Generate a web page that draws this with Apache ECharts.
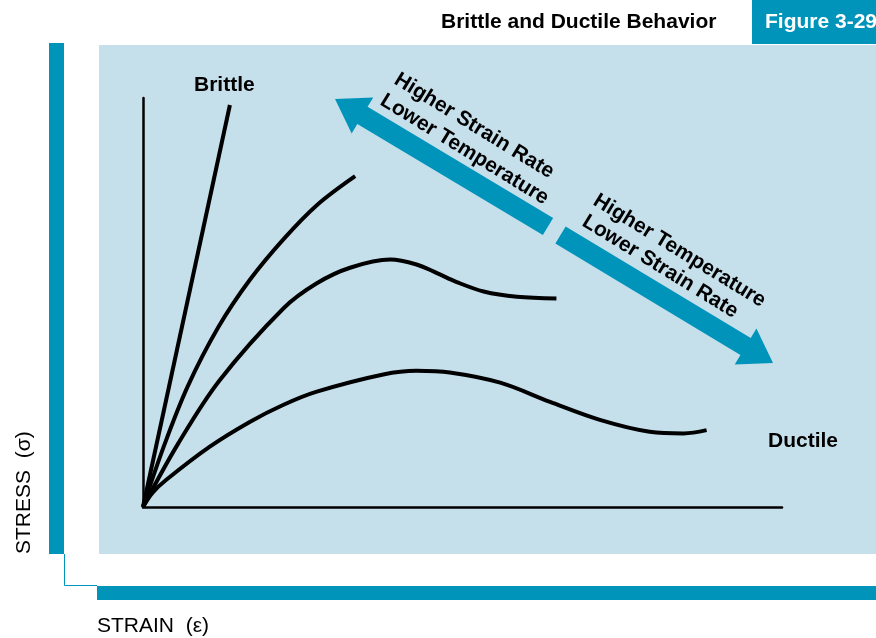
<!DOCTYPE html>
<html>
<head>
<meta charset="utf-8">
<style>
  html, body { margin: 0; padding: 0; background: #fff; }
  #chart { width: 876px; height: 638px; }
</style>
<script src="https://cdn.jsdelivr.net/npm/echarts@6/dist/echarts.min.js"></script>
</head>
<body>
<div id="chart"></div>
<script>
// stress-strain curves (strain %, stress %)
const brittleCurve = [[0, 0], [13.6, 98.3]];
const secondCurve = [[0, 0], [3.3, 15.0], [7.0, 29.5], [11.8, 44.0], [16.7, 55.5], [22.0, 65.5],
  [27.2, 73.8], [33.2, 80.9]];
const thirdCurve = [[0, 0], [5.5, 15.5], [12.0, 31.0], [22.0, 48.6], [27.2, 54.7], [32.4, 58.5],
  [38.7, 60.5], [42.8, 59.3], [46.0, 57.2], [49.1, 55.0], [53.3, 52.7], [58.5, 51.4], [64.7, 51.0]];
const ductileCurve = [[0, 0], [1.5, 3.5], [3.6, 6.6], [10.4, 14.7], [16.7, 20.8], [22.0, 25.0], [27.2, 28.2],
  [37.6, 32.4], [42.8, 33.3], [48.0, 32.9], [55.9, 30.4], [63.7, 25.7], [71.5, 21.3], [79.3, 18.4],
  [84.6, 18.0], [88.2, 18.8]];

const titleText = 'Brittle and Ductile Behavior';
const figureText = 'Figure 3-29';
const xName = 'STRAIN  (\u03b5)';
const yName = 'STRESS  (\u03c3)';
const arrowUpLines = ['Higher Strain Rate', 'Lower Temperature'];
const arrowDownLines = ['Higher Temperature', 'Lower Strain Rate'];

const BLUE = '#0094bb';
const PANEL = '#c5dfeb';
const FONT = '"Liberation Sans", Arial, sans-serif';

// polygon for a fat arrow from tail to tip
function arrowShape(tail, tip, w, hl, hw) {
  let dx = tip[0] - tail[0], dy = tip[1] - tail[1];
  let len = Math.sqrt(dx * dx + dy * dy);
  let ux = dx / len, uy = dy / len;
  let nx = -uy, ny = ux;
  let bx = tip[0] - ux * hl, by = tip[1] - uy * hl;
  return [
    [tail[0] + nx * w / 2, tail[1] + ny * w / 2],
    [bx + nx * w / 2, by + ny * w / 2],
    [bx + nx * hw / 2, by + ny * hw / 2],
    tip,
    [bx - nx * hw / 2, by - ny * hw / 2],
    [bx - nx * w / 2, by - ny * w / 2],
    [tail[0] - nx * w / 2, tail[1] - ny * w / 2]
  ];
}

function boldText(x, y, text, extra) {
  return Object.assign({
    type: 'text', x: x, y: y, z: 10,
    style: { text: text, fill: '#000', font: 'bold 21px ' + FONT, align: 'left', verticalAlign: 'middle' }
  }, extra || {});
}

const ang = -31.5 * Math.PI / 180;

let myChart = echarts.init(document.getElementById('chart'));
let option = {
  animation: false,
  backgroundColor: '#fff',
  grid: { left: 143, right: 94, top: 98, bottom: 131 },
  xAxis: {
    type: 'value', min: 0, max: 100,
    axisLine: { show: true, lineStyle: { color: '#000', width: 2.5 } },
    axisTick: { show: false }, axisLabel: { show: false }, splitLine: { show: false }
  },
  yAxis: {
    type: 'value', min: 0, max: 100,
    axisLine: { show: true, lineStyle: { color: '#000', width: 2.5 } },
    axisTick: { show: false }, axisLabel: { show: false }, splitLine: { show: false }
  },
  graphic: [
    // background panel and bars
    { type: 'rect', z: -10, shape: { x: 99, y: 45, width: 777, height: 509 }, style: { fill: PANEL } },
    { type: 'rect', z: -10, shape: { x: 49, y: 43, width: 15, height: 511 }, style: { fill: BLUE } },
    { type: 'rect', z: -10, shape: { x: 97, y: 586, width: 779, height: 14 }, style: { fill: BLUE } },
    { type: 'polyline', z: -10, shape: { points: [[64.5, 554], [64.5, 585.5], [97, 585.5]] },
      style: { stroke: BLUE, lineWidth: 1, fill: null } },
    { type: 'rect', z: -10, shape: { x: 752, y: 0, width: 124, height: 44 }, style: { fill: BLUE } },
    { type: 'text', x: 765, y: 22, style: { text: figureText, fill: '#fff', font: 'bold 21px ' + FONT, verticalAlign: 'middle' } },
    { type: 'text', x: 441, y: 22, style: { text: titleText, fill: '#000', font: 'bold 21px ' + FONT, verticalAlign: 'middle' } },
    // axis names
    { type: 'text', x: 97, y: 626, style: { text: xName, fill: '#000', font: '21px ' + FONT, verticalAlign: 'middle' } },
    { type: 'text', x: 24, y: 554, rotation: Math.PI / 2,
      style: { text: yName, fill: '#000', font: '21px ' + FONT, align: 'left', verticalAlign: 'middle' } },
    // arrows
    { type: 'polygon', z: 5, shape: { points: arrowShape([548, 226.5], [335, 99], 20, 32, 42) }, style: { fill: BLUE } },
    { type: 'polygon', z: 5, shape: { points: arrowShape([560.5, 235], [773, 363], 20, 32, 42) }, style: { fill: BLUE } },
    boldText(396, 78, arrowUpLines[0], { rotation: ang }),
    boldText(382, 99, arrowUpLines[1], { rotation: ang }),
    boldText(595, 199, arrowDownLines[0], { rotation: ang }),
    boldText(584, 220, arrowDownLines[1], { rotation: ang }),
    // curve labels
    boldText(194, 85, 'Brittle'),
    boldText(768, 441, 'Ductile')
  ],
  series: [brittleCurve, secondCurve, thirdCurve, ductileCurve].map(function (d) {
    return {
      type: 'line', data: d, smooth: 0.35, symbol: 'none', silent: true,
      lineStyle: { color: '#000', width: 4 }
    };
  })
};
myChart.setOption(option);
</script>
</body>
</html>
